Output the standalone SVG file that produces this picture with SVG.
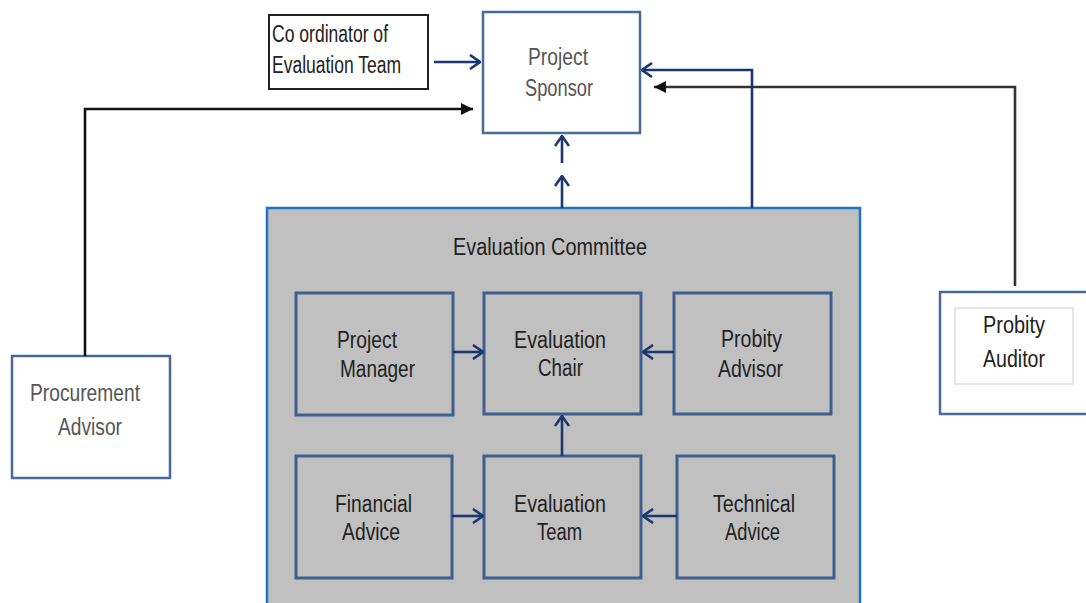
<svg xmlns="http://www.w3.org/2000/svg" width="1086" height="603" viewBox="0 0 1086 603">
<defs>
<style>
.t{font-family:"Liberation Sans",Arial,sans-serif;font-size:23px;fill:#222}
.tg{font-family:"Liberation Sans",Arial,sans-serif;font-size:23px;fill:#555}
.box{fill:#fff;stroke:#4a6a98;stroke-width:2.5}
.inner{fill:#c0c0c0;stroke:#3d5e8e;stroke-width:3}
.nv{fill:none;stroke:#1c3670;stroke-width:2.6}
.bk{fill:none;stroke:#111;stroke-width:2.6}
</style>
<marker id="chev" viewBox="0 0 12 16" refX="11" refY="8" markerWidth="12" markerHeight="16" markerUnits="userSpaceOnUse" orient="auto">
<path d="M1,1 L11,8 L1,15" fill="none" stroke="#1c3670" stroke-width="2.6"/>
</marker>
<marker id="tri" viewBox="0 0 12 12" refX="12" refY="6" markerWidth="12" markerHeight="12" markerUnits="userSpaceOnUse" orient="auto">
<path d="M0,0 L12,6 L0,12 Z" fill="#111"/>
</marker>
</defs>
<rect width="1086" height="603" fill="#fff"/>

<g id="committee">
<rect x="267" y="208" width="593" height="410" fill="#c0c0c0" stroke="#1f74c4" stroke-width="2.5"/>
<text class="t" x="453" y="255" textLength="194" lengthAdjust="spacingAndGlyphs">Evaluation Committee</text>
</g>

<g id="coordinator">
<rect x="269" y="15" width="159" height="74" fill="#fff" stroke="#222" stroke-width="2"/>
<text class="t" x="272" y="42" textLength="116" lengthAdjust="spacingAndGlyphs">Co ordinator of</text>
<text class="t" x="272" y="73" textLength="129" lengthAdjust="spacingAndGlyphs">Evaluation Team</text>
</g>

<g id="sponsor">
<rect class="box" x="483" y="12" width="157" height="121"/>
<text class="tg" x="528" y="65" textLength="60" lengthAdjust="spacingAndGlyphs">Project</text>
<text class="tg" x="525" y="96" textLength="68" lengthAdjust="spacingAndGlyphs">Sponsor</text>
</g>

<g id="procurement">
<rect class="box" x="12" y="356" width="158" height="122"/>
<text class="tg" x="30" y="401" textLength="110" lengthAdjust="spacingAndGlyphs">Procurement</text>
<text class="tg" x="58" y="435" textLength="64" lengthAdjust="spacingAndGlyphs">Advisor</text>
</g>

<g id="auditor">
<rect class="box" x="940" y="292" width="160" height="122"/>
<rect x="955" y="308" width="118" height="76" fill="#fff" stroke="#ddd" stroke-width="1.5"/>
<text class="t" x="983" y="333" textLength="62" lengthAdjust="spacingAndGlyphs">Probity</text>
<text class="t" x="983" y="367" textLength="62" lengthAdjust="spacingAndGlyphs">Auditor</text>
</g>

<g id="pm">
<rect class="inner" x="296" y="293" width="157" height="122"/>
<text class="t" x="337" y="348" textLength="60" lengthAdjust="spacingAndGlyphs">Project</text>
<text class="t" x="340" y="377" textLength="75" lengthAdjust="spacingAndGlyphs">Manager</text>
</g>

<g id="chair">
<rect class="inner" x="484" y="293" width="157" height="121"/>
<text class="t" x="514" y="348" textLength="92" lengthAdjust="spacingAndGlyphs">Evaluation</text>
<text class="t" x="538" y="376" textLength="45" lengthAdjust="spacingAndGlyphs">Chair</text>
</g>

<g id="probity-advisor">
<rect class="inner" x="674" y="293" width="157" height="121"/>
<text class="t" x="721" y="347" textLength="61" lengthAdjust="spacingAndGlyphs">Probity</text>
<text class="t" x="718" y="377" textLength="65" lengthAdjust="spacingAndGlyphs">Advisor</text>
</g>

<g id="financial">
<rect class="inner" x="296" y="456" width="156" height="122"/>
<text class="t" x="335" y="512" textLength="77" lengthAdjust="spacingAndGlyphs">Financial</text>
<text class="t" x="342" y="540" textLength="58" lengthAdjust="spacingAndGlyphs">Advice</text>
</g>

<g id="team">
<rect class="inner" x="484" y="456" width="157" height="122"/>
<text class="t" x="514" y="512" textLength="92" lengthAdjust="spacingAndGlyphs">Evaluation</text>
<text class="t" x="537" y="540" textLength="45" lengthAdjust="spacingAndGlyphs">Team</text>
</g>

<g id="technical">
<rect class="inner" x="677" y="456" width="157" height="122"/>
<text class="t" x="713" y="512" textLength="82" lengthAdjust="spacingAndGlyphs">Technical</text>
<text class="t" x="725" y="540" textLength="55" lengthAdjust="spacingAndGlyphs">Advice</text>
</g>

<g id="connectors">
<path class="nv" d="M434,62 H480" marker-end="url(#chev)"/>
<path class="bk" d="M85,356 V109 H473" marker-end="url(#tri)"/>
<path class="nv" d="M562,208 V176" marker-end="url(#chev)"/>
<path class="nv" d="M562,163 V136" marker-end="url(#chev)"/>
<path class="nv" d="M752,208 V70 H642" marker-end="url(#chev)"/>
<path class="bk" d="M1015,286 V87 H654" marker-end="url(#tri)" style="stroke:#333"/>
<path class="nv" d="M453,352 H483" marker-end="url(#chev)"/>
<path class="nv" d="M674,352 H643" marker-end="url(#chev)"/>
<path class="nv" d="M562,456 V416" marker-end="url(#chev)"/>
<path class="nv" d="M452,516 H483" marker-end="url(#chev)"/>
<path class="nv" d="M677,516 H643" marker-end="url(#chev)"/>
</g>
</svg>
